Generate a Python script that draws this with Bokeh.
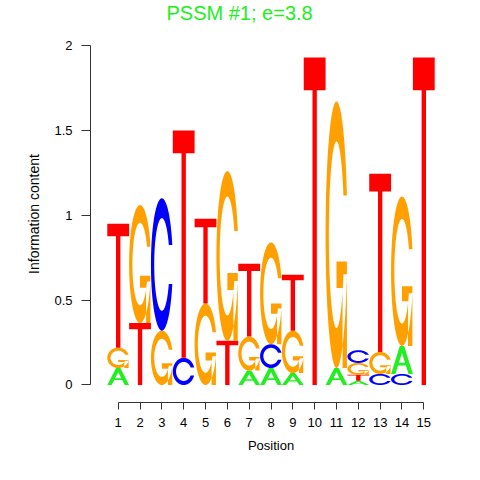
import numpy as np
from bokeh.plotting import figure
from bokeh.models import Range1d, FixedTicker, CustomJSTickFormatter, Title, ColumnDataSource
from bokeh.embed import file_html
from bokeh.resources import INLINE

# Information content (bits) of each base at each motif position
positions = list(range(1, 16))
bits_A = [0.10, 0.00, 0.00, 0.00, 0.00, 0.00, 0.085, 0.10, 0.07, 0.00, 0.10, 0.025, 0.00, 0.165, 0.00]
bits_C = [0.00, 0.00, 0.78, 0.16, 0.00, 0.00, 0.00, 0.14, 0.00, 0.00, 0.00, 0.075, 0.065, 0.065, 0.00]
bits_G = [0.12, 0.695, 0.32, 0.00, 0.48, 1.00, 0.20, 0.60, 0.25, 0.00, 1.57, 0.07, 0.13, 0.88, 0.00]
bits_T = [0.73, 0.365, 0.00, 1.34, 0.50, 0.26, 0.43, 0.00, 0.33, 1.93, 0.00, 0.035, 1.05, 0.00, 1.93]

y_ticks = [0, 0.5, 1, 1.5, 2]
title_text = "PSSM #1; e=3.8"

base_colors = {"A": "#22EE22", "C": "#0000FF", "G": "#FFA000", "T": "#FF0000"}
FONT = "Liberation Sans"


# ---- letter outlines in a unit box (list of polygons, each a list of rings) ----
def shape_A():
    xo = np.array([0, 4, 6, 10, 8, 6.8, 3.2, 2, 0]) * 0.1
    yo = np.array([0, 10, 10, 0, 0, 3, 3, 0, 0]) * 0.1
    xh = np.array([3.6, 5, 6.4, 3.6]) * 0.1
    yh = np.array([4, 7.5, 4, 4]) * 0.1
    return [[(xo, yo), (xh, yh)]]


def shape_T():
    x = np.array([0, 10, 10, 6, 6, 4, 4, 0]) * 0.1
    y = np.array([10, 10, 9, 9, 0, 0, 9, 9]) * 0.1
    return [[(x, y)]]


def _ring():
    a1 = np.linspace(0.3 + np.pi / 2, np.pi, 100)
    a2 = np.linspace(np.pi, 1.5 * np.pi, 100)
    xl1 = 0.5 + 0.5 * np.sin(a1)
    yl1 = 0.5 + 0.5 * np.cos(a1)
    xl = np.concatenate([xl1, 0.5 + 0.5 * np.sin(a2)])
    yl = np.concatenate([yl1, 0.5 + 0.5 * np.cos(a2)])
    x_out = np.concatenate([xl, xl[::-1]])
    y_out = np.concatenate([yl, 1 - yl[::-1]])
    h = yl1.max()
    xi1 = 0.5 + 0.35 * np.sin(a1)
    yi1 = 0.5 + 0.35 * np.cos(a1)
    keep = yi1 <= h
    xi1 = xi1[keep]
    yi1 = yi1[keep].copy()
    yi1[0] = h
    xi = np.concatenate([xi1, 0.5 + 0.35 * np.sin(a2)])
    yi = np.concatenate([yi1, 0.5 + 0.35 * np.cos(a2)])
    x_in = np.concatenate([xi, xi[::-1]])
    y_in = np.concatenate([yi, 1 - yi[::-1]])
    x = np.concatenate([x_out, x_in[::-1]])
    y = np.concatenate([y_out, y_in[::-1]])
    return x, y, xl1.max()


def shape_C():
    x, y, _ = _ring()
    return [[(x, y)]]


def shape_G():
    x, y, r1 = _ring()
    h1 = 0.4
    xa = np.array([r1, 0.5, 0.5, r1 - 0.2, r1 - 0.2, r1, r1])
    ya = np.array([h1, h1, h1 - 0.1, h1 - 0.1, 0, 0, h1])
    return [[(x, y)], [(xa, ya)]]


shapes = {"A": shape_A(), "C": shape_C(), "G": shape_G(), "T": shape_T()}
bits = {"A": bits_A, "C": bits_C, "G": bits_G, "T": bits_T}

# ---- stack letters per position, smallest at the bottom ----
xs, ys, fills = [], [], []
for i, pos in enumerate(positions):
    col = sorted(((bits[b][i], b) for b in "ACGT"), key=lambda t: t[0])
    base_y = 0.0
    for h, b in col:
        if h <= 0:
            continue
        gx, gy = [], []
        for poly in shapes[b]:
            px, py = [], []
            for rx, ry in poly:
                px.append(list(pos - 0.5 + rx))
                py.append(list(base_y + h * ry))
            gx.append(px)
            gy.append(py)
        xs.append(gx)
        ys.append(gy)
        fills.append(base_colors[b])
        base_y += h

src = ColumnDataSource(dict(xs=xs, ys=ys, fill=fills))

p = figure(
    width=480, height=480,
    x_range=Range1d(-0.269, 16.269), y_range=Range1d(-0.1031, 2.1179),
    output_backend="svg", toolbar_location=None,
    min_border_left=90, min_border_right=29, min_border_top=25, min_border_bottom=78,
)
p.title = Title(text=title_text, align="left", offset=76, text_font=FONT,
                text_font_size="20px", text_font_style="normal",
                text_color="#22EE22", vertical_align="top", standoff=0)
p.outline_line_color = None
p.xgrid.visible = False
p.ygrid.visible = False
p.background_fill_color = "white"
p.border_fill_color = "white"

p.multi_polygons(xs="xs", ys="ys", fill_color="fill", line_color=None, source=src)

for ax in (p.xaxis, p.yaxis):
    ax.axis_line_color = "#333333"
    ax.major_tick_line_color = "#333333"
    ax.major_tick_in = 0
    ax.minor_tick_line_color = None
    ax.major_label_text_font = FONT
    ax.major_label_text_font_size = "13px"
    ax.major_label_text_color = "black"
    ax.axis_label_text_font = FONT
    ax.axis_label_text_font_style = "normal"
    ax.axis_label_text_color = "black"

p.xaxis.ticker = FixedTicker(ticks=positions)
p.xaxis.bounds = (positions[0], positions[-1])
p.xaxis.major_tick_out = 7
p.xaxis.major_label_standoff = 8
p.xaxis.axis_label = "Position"
p.xaxis.axis_label_text_font_size = "13px"
p.xaxis.axis_label_standoff = 8

p.yaxis.ticker = FixedTicker(ticks=y_ticks)
p.yaxis.bounds = (y_ticks[0], y_ticks[-1])
p.yaxis.formatter = CustomJSTickFormatter(code="return tick.toString()")
p.yaxis.major_tick_out = 9
p.yaxis.major_label_standoff = 9
p.yaxis.axis_label = "Information content"
p.yaxis.axis_label_text_font_size = "14px"
p.yaxis.axis_label_standoff = 9

open("out.html", "w").write(file_html(p, INLINE))
